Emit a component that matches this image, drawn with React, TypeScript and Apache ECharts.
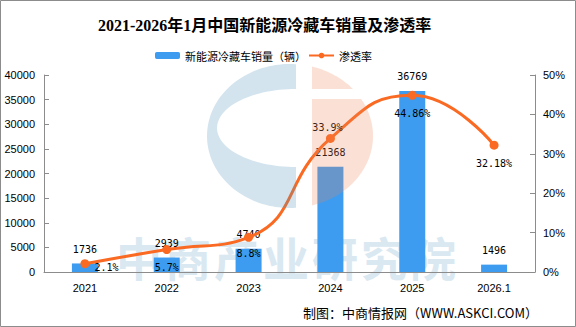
import React, { useEffect, useRef } from "react";
import * as echarts from "echarts";

const categories = ["2021", "2022", "2023", "2024", "2025", "2026.1"];
const salesValues = [1736, 2939, 4740, 21368, 36769, 1496];
const penetrationValues = [2.1, 5.7, 8.8, 33.9, 44.86, 32.18];
const leftAxisMax = 40000;
const leftAxisStep = 5000;
const rightAxisMax = 50;
const rightAxisStep = 10;

const seriesNames = ["新能源冷藏车销量（辆）", "渗透率"];
const titleText = "2021-2026年1月中国新能源冷藏车销量及渗透率";
const footerText = "制图：中商情报网（WWW.ASKCI.COM）";
const watermarkChars = ["中", "商", "产", "业", "研", "究", "院"];

// label placement for the line (style only)
const lineLabelPos = ["right", "bottom", "bottom", "top", "bottom", "bottom"];
const lineLabelDist = [5, 8, 7, 1, 9, 9];
const lineLabelOffset = [[0, 4], [0, 0], [0, 0], [-3, 0], [0, 0], [0, 0]];

function ellipsePts(cx: number, cy: number, rx: number, ry: number, t0: number, t1: number, n: number) {
  const pts: number[][] = [];
  for (let i = 0; i <= n; i++) {
    const t = t0 + ((t1 - t0) * i) / n;
    pts.push([cx + rx * Math.cos(t), cy + ry * Math.sin(t)]);
  }
  return pts;
}

function buildLogo() {
  const cx = 290, cy = 136, rx = 83, ry = 72;
  const splitX = 296, orangeX = 312;
  const a = Math.acos((splitX - cx) / rx);
  const blue: number[][] = [];
  blue.push(...ellipsePts(cx, cy, rx, ry, -a, a - 2 * Math.PI, 80));
  const icx = 296, icy = 128, irx = 79, iry = 39;
  blue.push(...ellipsePts(icx, icy, irx, iry, Math.PI / 2, (3 * Math.PI) / 2, 60));
  const b = Math.acos((orangeX - cx) / rx);
  const bandTop = 89, bandBot = 99;
  const tTop = Math.asin((bandTop - cy) / ry);
  const tBot = Math.asin((bandBot - cy) / ry);
  const orangeTop = ellipsePts(cx, cy, rx, ry, -b, tTop, 20);
  orangeTop.push([orangeX, bandTop]);
  const orangeBottom = ellipsePts(cx, cy, rx, ry, tBot, b, 60);
  orangeBottom.push([orangeX, bandBot]);
  const blueFill = "rgba(80,148,188,0.25)";
  const orangeFill = "rgba(240,131,88,0.25)";
  return [
    { type: "polygon", z: 100, silent: true, shape: { points: blue }, style: { fill: blueFill } },
    { type: "polygon", z: 100, silent: true, shape: { points: orangeTop }, style: { fill: orangeFill } },
    { type: "polygon", z: 100, silent: true, shape: { points: orangeBottom }, style: { fill: orangeFill } },
  ];
}

export default function App() {
  const ref = useRef<HTMLDivElement>(null);
  useEffect(() => {
    if (!ref.current) return;
    const chart = echarts.init(ref.current, undefined, { renderer: "svg" });
    const axisFont = "'Liberation Sans', Arial, sans-serif";
    const labelFont = "'DejaVu Sans Mono', monospace";
    const cjkFont = "'Noto Sans CJK SC', sans-serif";

    const watermark = watermarkChars.map((c, i) => ({
      type: "text",
      z: 0,
      silent: true,
      x: 116 + i * 49,
      y: 256,
      style: {
        text: c,
        fill: "#d9e8f1",
        font: `bold 46px ${cjkFont}`,
        verticalAlign: "middle",
        align: "left",
      },
    }));

    chart.setOption({
      animation: false,
      backgroundColor: "#ffffff",
      title: {
        text: titleText,
        left: 93,
        top: 12,
        textStyle: {
          fontSize: 16,
          fontWeight: "bold",
          color: "#000",
          fontFamily: "'Liberation Serif', 'Noto Sans CJK SC', serif",
        },
      },
      legend: {
        data: seriesNames,
        left: 150,
        top: 45,
        itemWidth: 25,
        itemHeight: 7,
        itemGap: 2,
        textStyle: { fontSize: 11, color: "#000", fontFamily: cjkFont },
      },
      grid: { left: 44, right: 41, top: 75, bottom: 55, containLabel: false },
      xAxis: {
        type: "category",
        data: categories,
        axisLine: { lineStyle: { color: "#8c8c8c", width: 1 } },
        axisTick: { show: false },
        axisLabel: { color: "#000", fontSize: 11, margin: 10, fontFamily: axisFont },
      },
      yAxis: [
        {
          type: "value",
          min: 0,
          max: leftAxisMax,
          interval: leftAxisStep,
          splitLine: { show: false },
          axisLine: { show: true, lineStyle: { color: "#8c8c8c" } },
          axisTick: { show: true, inside: true, length: 5, lineStyle: { color: "#8c8c8c" } },
          axisLabel: {
            color: "#000",
            fontSize: 11,
            margin: 9,
            fontFamily: axisFont,
            formatter: (v: number) => String(v),
          },
        },
        {
          type: "value",
          min: 0,
          max: rightAxisMax,
          interval: rightAxisStep,
          position: "right",
          splitLine: { show: false },
          axisLine: { show: true, lineStyle: { color: "#8c8c8c" } },
          axisTick: { show: true, inside: true, length: 5, lineStyle: { color: "#8c8c8c" } },
          axisLabel: { color: "#000", fontSize: 11, margin: 8, fontFamily: axisFont, formatter: "{value}%" },
        },
      ],
      series: [
        {
          name: seriesNames[0],
          type: "bar",
          data: salesValues,
          barWidth: 26,
          itemStyle: { color: "#3d9cf0" },
          label: {
            show: true,
            position: "top",
            distance: 9,
            color: "#000",
            fontSize: 10,
            fontFamily: labelFont,
          },
          z: 2,
        },
        {
          name: seriesNames[1],
          type: "line",
          yAxisIndex: 1,
          smooth: true,
          symbol: "circle",
          symbolSize: 9,
          lineStyle: { color: "#fa6a22", width: 3 },
          itemStyle: { color: "#fa6a22" },
          data: penetrationValues.map((v, i) => ({
            value: v,
            label: {
              position: lineLabelPos[i],
              distance: lineLabelDist[i],
              offset: lineLabelOffset[i],
            },
          })),
          label: {
            show: true,
            color: "#000",
            fontSize: 10,
            fontFamily: labelFont,
            formatter: (p: any) => `${p.value}%`,
          },
          z: 3,
        },
      ],
      graphic: [
        ...watermark,
        ...buildLogo(),
        {
          type: "text",
          z: 101,
          x: 538,
          y: 312,
          style: {
            text: footerText,
            fill: "#000",
            font: `13px ${cjkFont}`,
            align: "right",
            verticalAlign: "middle",
          },
        },
        {
          type: "rect",
          z: 102,
          silent: true,
          shape: { x: 0.5, y: 0.5, width: 575, height: 326 },
          style: { fill: "none", stroke: "#8c8c8c", lineWidth: 1 },
        },
      ],
    });
    return () => chart.dispose();
  }, []);
  return (
    <div
      ref={ref}
      style={{ position: "fixed", left: 0, top: 0, width: 576, height: 327 }}
    />
  );
}
